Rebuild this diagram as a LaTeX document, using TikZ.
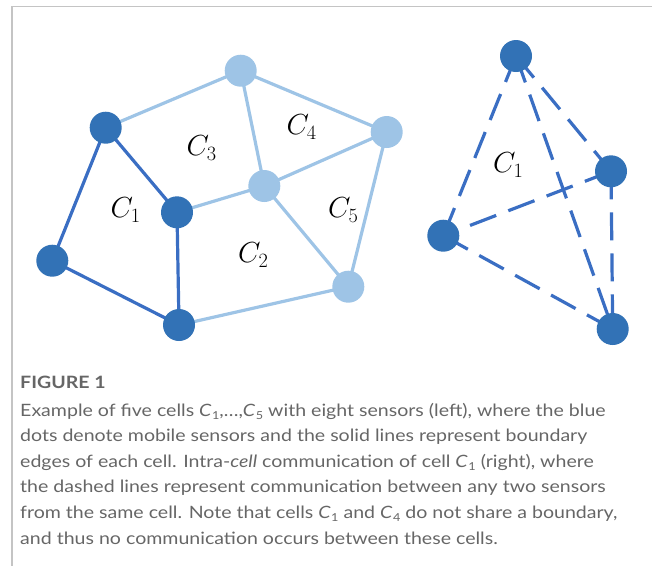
\RequirePackage{fix-cm}
\documentclass[tikz,border=0pt]{standalone}
\usepackage{fontspec}
\newfontfamily\capfont[FakeStretch=1.15]{Lato}
\definecolor{dkfill}{HTML}{3272B6}
\definecolor{dkline}{HTML}{3A6EC3}
\definecolor{ltblue}{HTML}{9EC4E6}
\definecolor{capgray}{HTML}{666666}
\definecolor{framegray}{HTML}{C4C4C4}
\pgfdeclarelayer{bg}
\pgfsetlayers{bg,main}
\newcommand\Csub[1]{\textit{C}\kern0.5pt\raisebox{-0.35ex}{\fontsize{11}{11}\selectfont #1}}
\begin{document}
\begin{tikzpicture}[x=1pt,y=-1pt,
  sensor/.style={circle,inner sep=0pt,minimum size=32pt},
  dkn/.style={sensor,fill=dkfill},
  ltn/.style={sensor,fill=ltblue},
  dkedge/.style={draw=dkline,line width=3.2pt},
  ltedge/.style={draw=ltblue,line width=3.2pt},
  commedge/.style={draw=dkline,line width=3.2pt,dash pattern=on 28pt off 13pt},
  celllabel/.style={inner sep=0pt,font=\fontsize{29}{31}\selectfont},
  capline/.style={anchor=base west,inner sep=0pt,text=capgray,font=\capfont\fontsize{17}{20}\selectfont}
]
\useasboundingbox (0,0) rectangle (652,566);
\coordinate (fr1) at (652,6.5);
\coordinate (fr2) at (12,6.5);
\coordinate (fr3) at (12,566);
\draw[framegray,line width=1.3pt] (fr1) -- (fr2) -- (fr3);

% left diagram sensors
\node[dkn] (A) at (105.7,127.7) {};
\node[dkn] (B) at (177,212.3) {};
\node[dkn] (C) at (52.3,260.7) {};
\node[dkn] (D) at (179,325) {};
\node[ltn] (E) at (240.7,70.7) {};
\node[ltn] (F) at (386.7,132) {};
\node[ltn] (G) at (264.3,186) {};
\node[ltn] (H) at (348.3,286.7) {};

% right diagram sensors
\node[dkn] (T) at (516,56) {};
\node[dkn] (R) at (611,171.3) {};
\node[dkn] (L) at (443.3,235.7) {};
\node[dkn] (S) at (612.7,329) {};

\begin{pgfonlayer}{bg}
  \draw[ltedge] (A.center) -- (E.center);
  \draw[ltedge] (E.center) -- (F.center);
  \draw[ltedge] (E.center) -- (G.center);
  \draw[ltedge] (G.center) -- (B.center);
  \draw[ltedge] (G.center) -- (F.center);
  \draw[ltedge] (G.center) -- (H.center);
  \draw[ltedge] (F.center) -- (H.center);
  \draw[ltedge] (H.center) -- (D.center);
  \draw[dkedge] (A.center) -- (C.center);
  \draw[dkedge] (A.center) -- (B.center);
  \draw[dkedge] (B.center) -- (D.center);
  \draw[dkedge] (C.center) -- (D.center);
  \draw[commedge] (T.center) -- (L.center);
  \draw[commedge] (T.center) -- (S.center);
  \draw[commedge] (T.center) -- (R.center);
  \draw[commedge] (R.center) -- (L.center);
  \draw[commedge] (R.center) -- (S.center);
  \draw[commedge] (L.center) -- (S.center);
\end{pgfonlayer}

\node[celllabel] (l1) at (125.7,210) {$C_1$};
\node[celllabel] (l2) at (253.3,255) {$C_2$};
\node[celllabel] (l3) at (201.7,148) {$C_3$};
\node[celllabel] (l4) at (301.7,127) {$C_4$};
\node[celllabel] (l5) at (343.3,210) {$C_5$};
\node[celllabel] (r1) at (508.3,165) {$C_1$};

% caption
\node[capline,font=\capfont\bfseries\fontsize{17}{20}\selectfont] (fig) at (20,388) {FIGURE 1};
\node[capline] (c1) at (20,416) {Example of five cells \Csub{1},…,\Csub{5} with eight sensors (left), where the blue};
\node[capline] (c2) at (20,441.6) {dots denote mobile sensors and the solid lines represent boundary};
\node[capline] (c3) at (20,467.2) {edges of each cell. Intra-\textit{cell} communication of cell \Csub{1} (right), where};
\node[capline] (c4) at (20,492.8) {the dashed lines represent communication between any two sensors};
\node[capline] (c5) at (20,518.4) {from the same cell. Note that cells \Csub{1} and \Csub{4} do not share a boundary,};
\node[capline] (c6) at (20,544) {and thus no communication occurs between these cells.};
\end{tikzpicture}
\end{document}
